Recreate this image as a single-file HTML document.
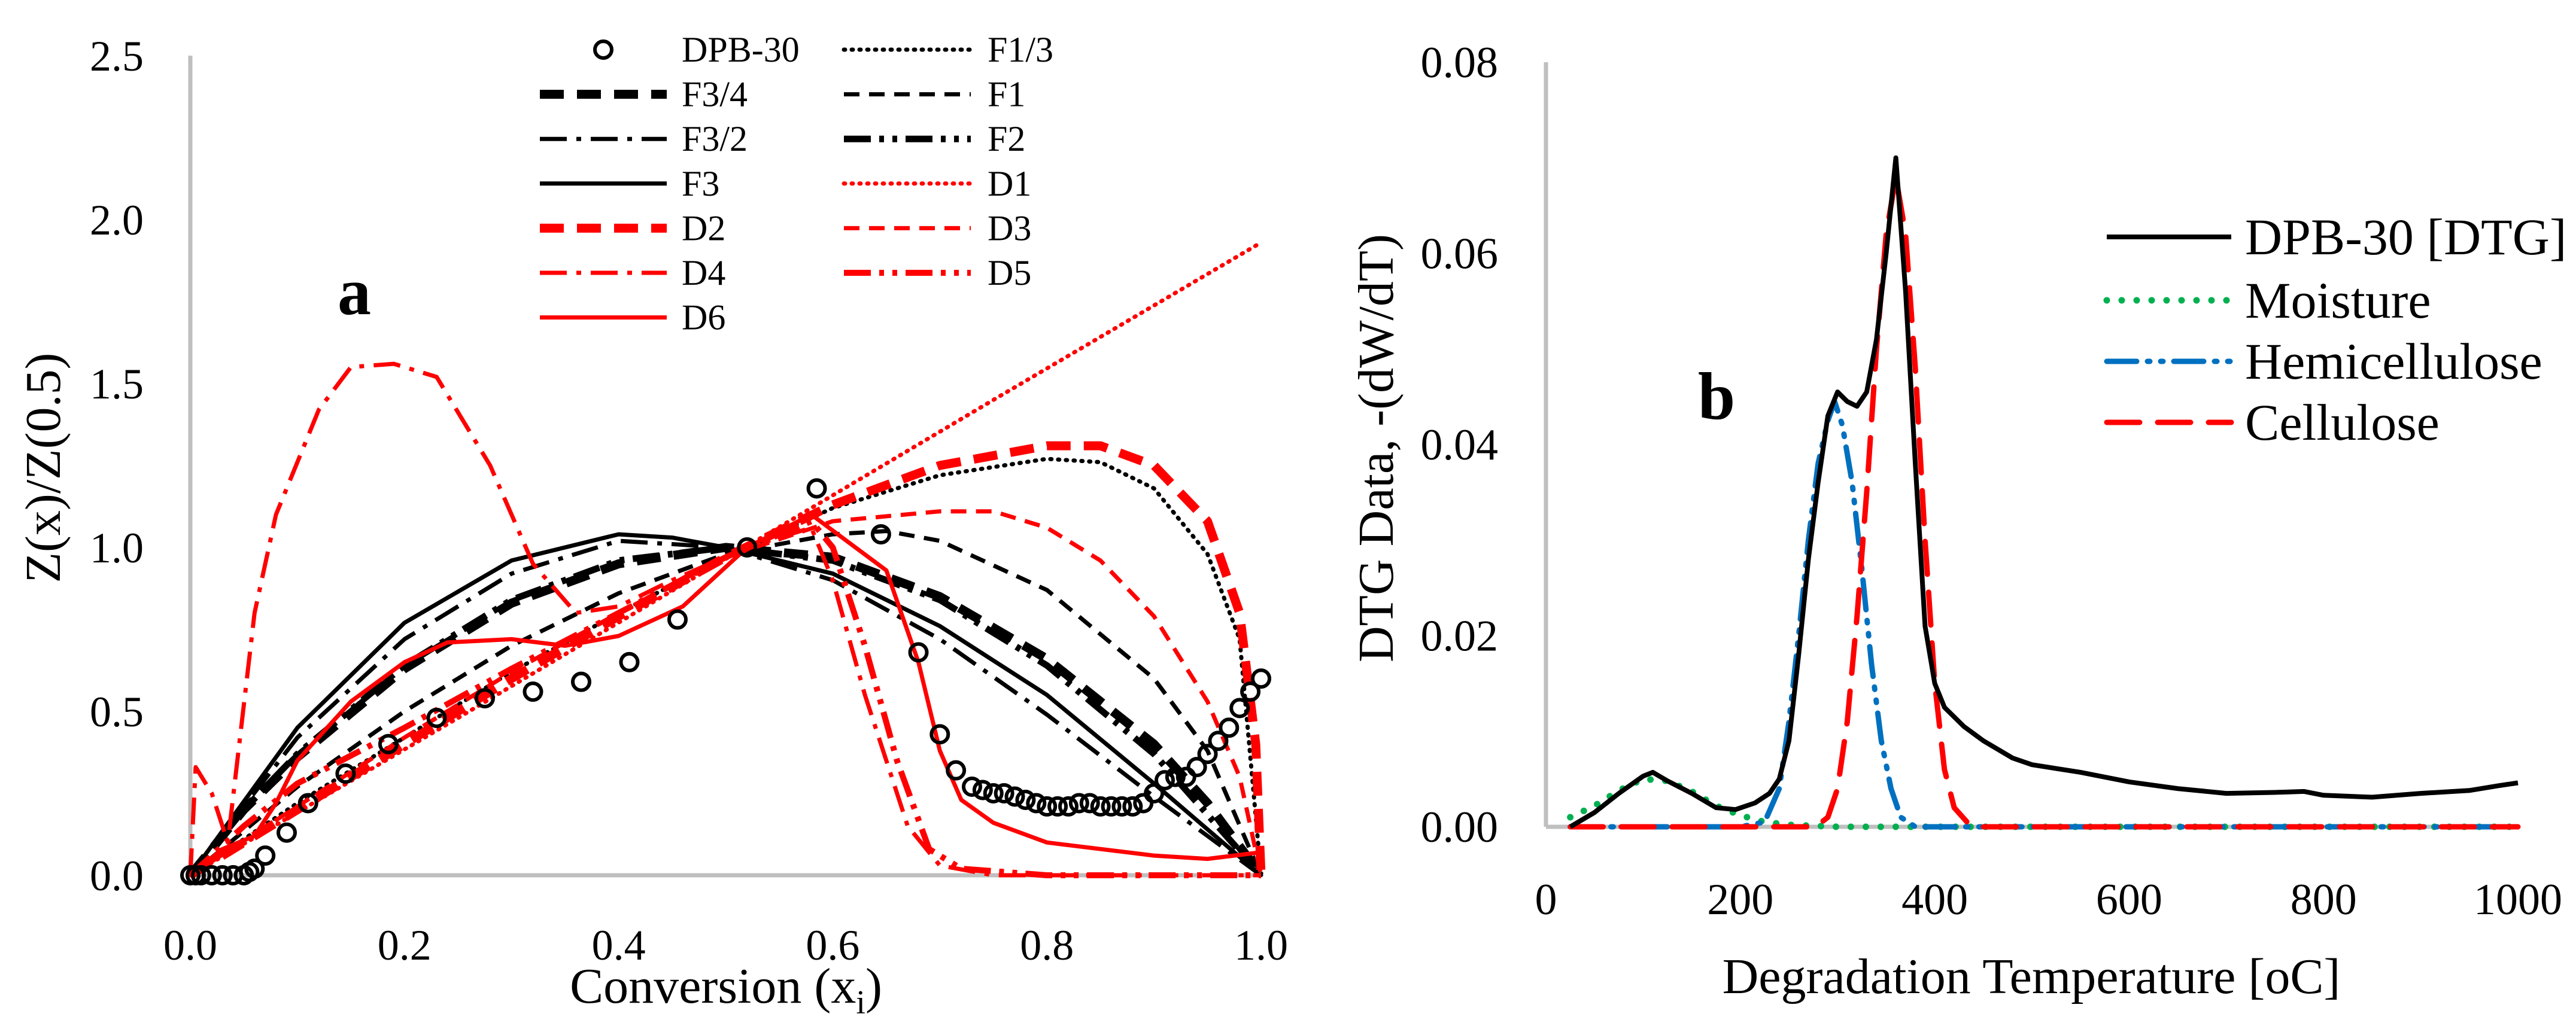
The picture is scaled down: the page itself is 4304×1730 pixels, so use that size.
<!DOCTYPE html>
<html><head><meta charset="utf-8"><style>
html,body{margin:0;padding:0;background:#fff}
svg{display:block;font-family:"Liberation Serif",serif}
</style></head><body>
<svg id="c" width="4304" height="1730" viewBox="0 0 4304 1730" xmlns="http://www.w3.org/2000/svg">
<rect width="4304" height="1730" fill="#fff"/>
<g id="pa"></g>
<g id="pb"></g>
</svg>
<script>
// ---------- Panel a data ----------
const aXTicks = [0.0,0.2,0.4,0.6,0.8,1.0];
const aYTicks = [0.0,0.5,1.0,1.5,2.0,2.5];
const dpbX = [0,0.005,0.01,0.02,0.03,0.04,0.05,0.055,0.06,0.07,0.09,0.11,0.145,0.185,0.23,0.275,0.32,0.365,0.41,0.455,0.52,0.585,0.645,0.68,0.70,0.715,0.73,0.74,0.75,0.76,0.77,0.78,0.79,0.80,0.81,0.82,0.83,0.84,0.85,0.86,0.87,0.88,0.89,0.9,0.91,0.92,0.93,0.94,0.95,0.96,0.97,0.98,0.99,1.0];
const dpbY = [0,0,0,0,0,0,0,0.01,0.02,0.06,0.13,0.22,0.31,0.40,0.48,0.54,0.56,0.59,0.65,0.78,1.0,1.18,1.04,0.68,0.43,0.32,0.27,0.26,0.25,0.25,0.24,0.23,0.22,0.21,0.21,0.21,0.22,0.22,0.21,0.21,0.21,0.21,0.22,0.25,0.29,0.30,0.30,0.33,0.37,0.41,0.45,0.51,0.56,0.60];
const f13X=[0,0.1,0.2,0.3,0.4,0.5,0.6,0.7,0.8,0.85,0.9,0.95,0.98,1.0];
const f13Y=[0,0.22,0.42,0.62,0.8,0.97,1.12,1.22,1.27,1.26,1.18,0.98,0.72,0];
const f34X=[0,0.05,0.1,0.2,0.3,0.4,0.5,0.6,0.7,0.8,0.9,0.95,1.0];
const f34Y=[0,0.2,0.36,0.63,0.83,0.95,1.0,0.97,0.85,0.66,0.4,0.22,0];
const f1X=[0,0.1,0.2,0.3,0.4,0.5,0.6,0.65,0.7,0.8,0.9,0.95,1.0];
const f1Y=[0,0.27,0.5,0.7,0.86,0.98,1.04,1.05,1.02,0.87,0.6,0.38,0];
const f32X=[0,0.1,0.2,0.3,0.4,0.5,0.6,0.7,0.8,0.9,1.0];
const f32Y=[0,0.42,0.72,0.92,1.02,1.0,0.9,0.72,0.49,0.24,0];
const f2X=[0,0.05,0.1,0.2,0.3,0.4,0.5,0.6,0.7,0.8,0.9,1.0];
const f2Y=[0,0.2,0.37,0.64,0.84,0.96,1.0,0.96,0.84,0.64,0.37,0];
const f3X=[0,0.1,0.2,0.3,0.4,0.45,0.5,0.6,0.7,0.8,0.9,1.0];
const f3Y=[0,0.45,0.77,0.96,1.04,1.03,1.0,0.92,0.76,0.55,0.28,0];
const d1X=[0,0.25,0.5,0.75,1.0];
const d1Y=[0,0.48,0.965,1.45,1.93];
const d2X=[0,0.1,0.2,0.3,0.4,0.5,0.6,0.7,0.8,0.85,0.9,0.95,0.98,0.995,1.0];
const d2Y=[0,0.2,0.4,0.6,0.79,0.97,1.13,1.25,1.31,1.31,1.25,1.08,0.8,0.4,0];
const d3X=[0,0.1,0.2,0.3,0.4,0.5,0.6,0.7,0.75,0.8,0.85,0.9,0.95,0.98,1.0];
const d3Y=[0,0.21,0.42,0.62,0.8,0.97,1.08,1.11,1.11,1.06,0.96,0.79,0.53,0.3,0];
const d4X=[0,0.005,0.02,0.035,0.06,0.08,0.12,0.15,0.19,0.23,0.28,0.32,0.36,0.4,0.45,0.52,0.58,0.6,0.63,0.67,0.7,0.75,0.85,1.0];
const d4Y=[0,0.33,0.25,0.1,0.8,1.1,1.42,1.55,1.56,1.52,1.25,0.95,0.8,0.82,0.9,1.0,1.06,0.9,0.55,0.15,0.03,0,0,0];
const d5X=[0,0.05,0.1,0.2,0.3,0.4,0.5,0.58,0.6,0.63,0.66,0.69,0.72,0.8,1.0];
const d5Y=[0,0.15,0.28,0.45,0.63,0.8,0.97,1.08,1.0,0.7,0.35,0.08,0.02,0,0];
const d6X=[0,0.03,0.06,0.08,0.1,0.15,0.2,0.24,0.3,0.35,0.4,0.46,0.52,0.58,0.65,0.68,0.7,0.72,0.75,0.8,0.9,0.95,1.0];
const d6Y=[0,0.08,0.12,0.22,0.35,0.53,0.65,0.71,0.72,0.7,0.73,0.82,1.0,1.1,0.93,0.65,0.38,0.23,0.16,0.1,0.06,0.05,0.07];

// ---------- Panel b data ----------
const bXTicks=[0,200,400,600,800,1000];
const bYTicks=[0,0.02,0.04,0.06,0.08];
const dtgT=[25,50,75,100,110,125,150,175,195,215,230,240,250,260,270,280,290,300,310,320,330,340,350,360,370,380,390,400,410,430,450,480,500,550,600,650,700,750,780,800,850,900,950,980,1000];
const dtgV=[0,0.0015,0.0035,0.0053,0.0057,0.0048,0.0035,0.002,0.0018,0.0025,0.0035,0.005,0.009,0.018,0.028,0.036,0.043,0.0455,0.0445,0.044,0.0455,0.051,0.06,0.07,0.056,0.038,0.021,0.015,0.0125,0.0105,0.009,0.0072,0.0065,0.0057,0.0047,0.004,0.0035,0.0036,0.0037,0.0033,0.0031,0.0035,0.0038,0.0043,0.0046];
const moistT=[25,50,75,100,125,150,175,200,225,250,300,1000];
const moistV=[0.001,0.0022,0.0038,0.005,0.0048,0.0037,0.0022,0.0012,0.0005,0.0002,0,0];
const hemiT=[25,200,225,240,250,260,270,280,290,297,305,315,325,335,345,355,365,380,1000];
const hemiV=[0,0,0.0005,0.004,0.011,0.02,0.03,0.038,0.0425,0.0445,0.042,0.036,0.027,0.017,0.009,0.004,0.001,0,0];
const cellT=[25,270,280,290,300,310,320,330,340,350,360,370,380,390,400,410,420,435,450,1000];
const cellV=[0,0,0.0002,0.001,0.004,0.011,0.022,0.035,0.05,0.062,0.068,0.062,0.048,0.03,0.015,0.006,0.002,0.0003,0,0];

const NS="http://www.w3.org/2000/svg";
function mk(tag,attrs,parent,txt){const e=document.createElementNS(NS,tag);for(const k in attrs)e.setAttribute(k,attrs[k]);if(txt!==undefined)e.textContent=txt;parent.appendChild(e);return e;}

const ax=v=>318+v*(2107-318);
const ay=v=>1463-v/2.5*(1463-93);
const bx=v=>2583+v/1000*(4207-2583);
const by=v=>1382-v/0.08*(1382-104);

const pa=document.getElementById('pa'), pb=document.getElementById('pb');
let e;
e=mk('line',{x1:318,y1:93,x2:318,y2:1463,stroke:'#bfbfbf','stroke-width':7},pa);

e=mk('line',{x1:318,y1:1463,x2:2107,y2:1463,stroke:'#bfbfbf','stroke-width':7},pa);

aYTicks.forEach(t=>{e=mk('text',{x:240,y:ay(t)+25,'text-anchor':'end','font-size':72},pa,t.toFixed(1));
});
aXTicks.forEach(t=>{e=mk('text',{x:ax(t),y:1604,'text-anchor':'middle','font-size':72},pa,t.toFixed(1));
});
e=mk('text',{x:1213,y:1676,'text-anchor':'middle','font-size':84},pa,'Conversion (x');

mk('tspan',{'font-size':56,dy:18},e,'i');mk('tspan',{dy:-18},e,')');
e=mk('text',{x:0,y:0,'text-anchor':'middle','font-size':84,transform:'translate(100,782) rotate(-90)'},pa,'Z(x)/Z(0.5)');

e=mk('text',{x:592,y:525,'text-anchor':'middle','font-size':112,'font-weight':'bold'},pa,'a');


function path(xs,ys,fx,fy,style,parent,name){
  let d='';for(let i=0;i<xs.length;i++)d+=(i?'L':'M')+fx(xs[i]).toFixed(1)+' '+fy(ys[i]).toFixed(1);
  const p=mk('path',Object.assign({d:d,fill:'none','stroke-linejoin':'round'},style),parent);
  
  
  return p;
}
const R='#ff0000',K='#000';
const seriesA=[
 ['F1/3',f13X,f13Y,{stroke:K,'stroke-width':7,'stroke-dasharray':'2 11','stroke-linecap':'round'}],
 ['F3/4',f34X,f34Y,{stroke:K,'stroke-width':15,'stroke-dasharray':'40 22'}],
 ['F1',f1X,f1Y,{stroke:K,'stroke-width':7,'stroke-dasharray':'26 16'}],
 ['F3/2',f32X,f32Y,{stroke:K,'stroke-width':7,'stroke-dasharray':'45 16 8 16'}],
 ['F2',f2X,f2Y,{stroke:K,'stroke-width':11,'stroke-dasharray':'45 14 8 14 8 14'}],
 ['F3',f3X,f3Y,{stroke:K,'stroke-width':7}],
 ['D1',d1X,d1Y,{stroke:R,'stroke-width':7,'stroke-dasharray':'2 11','stroke-linecap':'round'}],
 ['D2',d2X,d2Y,{stroke:R,'stroke-width':15,'stroke-dasharray':'40 22'}],
 ['D3',d3X,d3Y,{stroke:R,'stroke-width':7,'stroke-dasharray':'26 16'}],
 ['D4',d4X,d4Y,{stroke:R,'stroke-width':7,'stroke-dasharray':'45 16 8 16'}],
 ['D5',d5X,d5Y,{stroke:R,'stroke-width':10,'stroke-dasharray':'45 14 8 14 8 14'}],
 ['D6',d6X,d6Y,{stroke:R,'stroke-width':7}]
];
seriesA.forEach(s=>path(s[1],s[2],ax,ay,s[3],pa,'line-'+s[0].toLowerCase().replace('/','-')));
dpbX.forEach((x,i)=>{e=mk('circle',{cx:ax(x),cy:ay(dpbY[i]),r:14,fill:'none',stroke:K,'stroke-width':6},pa);
});

const legA=['DPB-30','F1/3','F3/4','F1','F3/2','F2','F3','D1','D2','D3','D4','D5','D6'];
const lg=mk('g',{},pa);
legA.forEach((n,i)=>{
  const col=i%2, row=Math.floor(i/2);
  const x0=col?1410:902, tx=col?1650:1139, y=83+row*74.6;
  if(n==='DPB-30'){e=mk('circle',{cx:x0+106,cy:y,r:14,fill:'none',stroke:K,'stroke-width':6},lg);}
  else{const s=seriesA.find(q=>q[0]===n);e=mk('line',Object.assign({x1:x0,y1:y,x2:x0+212,y2:y},s[3]),lg);}
  
  e=mk('text',{x:tx,y:y+20,'font-size':60},lg,n);
  
});

e=mk('line',{x1:2583,y1:104,x2:2583,y2:1382,stroke:'#bfbfbf','stroke-width':7},pb);

e=mk('line',{x1:2583,y1:1382,x2:4207,y2:1382,stroke:'#bfbfbf','stroke-width':7},pb);

bYTicks.forEach(t=>{e=mk('text',{x:2503,y:by(t)+25,'text-anchor':'end','font-size':74},pb,t.toFixed(2));
});
bXTicks.forEach(t=>{e=mk('text',{x:bx(t),y:1528,'text-anchor':'middle','font-size':74},pb,String(t));
});
e=mk('text',{x:3394,y:1660,'text-anchor':'middle','font-size':84},pb,'Degradation Temperature [oC]');

e=mk('text',{x:0,y:0,'text-anchor':'middle','font-size':84,transform:'translate(2327,749) rotate(-90)'},pb,'DTG Data, -(dW/dT)');

e=mk('text',{x:2868,y:700,'text-anchor':'middle','font-size':112,'font-weight':'bold'},pb,'b');


const seriesB=[
 ['Moisture',moistT,moistV,{stroke:'#00b050','stroke-width':11,'stroke-dasharray':'0 25','stroke-linecap':'round'}],
 ['Hemicellulose',hemiT,hemiV,{stroke:'#0070c0','stroke-width':9,'stroke-dasharray':'50 18 4 18 4 18','stroke-linecap':'round'}],
 ['Cellulose',cellT,cellV,{stroke:R,'stroke-width':9,'stroke-dasharray':'55 30','stroke-linecap':'round'}],
 ['DPB-30 [DTG]',dtgT,dtgV,{stroke:K,'stroke-width':8}]
];
seriesB.forEach(s=>path(s[1],s[2],bx,by,s[3],pb,'line-'+s[0].toLowerCase().replace(/[^a-z0-9]+/g,'-')));
const legB=['DPB-30 [DTG]','Moisture','Hemicellulose','Cellulose'];
const lgb=mk('g',{},pb);
const legBY=[396,502,604,706];
legB.forEach((n,i)=>{
  const s=seriesB.find(q=>q[0]===n);
  e=mk('line',Object.assign({x1:3520,y1:legBY[i],x2:3728,y2:legBY[i]},s[3]),lgb);
  
  e=mk('text',{x:3751,y:legBY[i]+29,'font-size':86},lgb,n);
  
});
</script>
</body></html>
